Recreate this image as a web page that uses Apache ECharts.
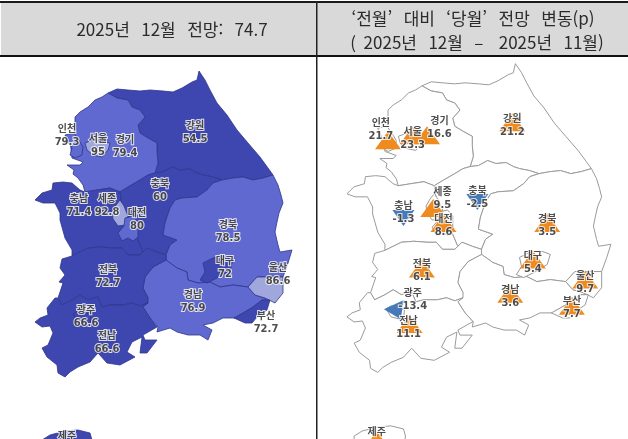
<!doctype html>
<html lang="ko">
<head>
    <meta charset="UTF-8">
    <script src="https://cdn.jsdelivr.net/npm/echarts@6/dist/echarts.min.js"></script>
    <title>2025년 12월 전망</title>
    <style>
        html, body { margin: 0; padding: 0; background: #fff; }
    </style>
</head>
<body>
<div id="main" style="width: 628px;height:439px;"></div>
<script>
    // 지역과 값 (제주 값은 그림에서 잘려 보이지 않아 추정치)
    var regions = ['인천', '서울', '경기', '강원', '충남', '세종', '대전', '충북', '경북', '대구', '울산', '전북', '경남', '부산', '광주', '전남', '제주'];
    var outlook = [79.3, 95, 79.4, 54.5, 71.4, 92.8, 80, 60, 78.5, 72, 86.6, 72.7, 76.9, 72.7, 66.6, 66.6, 70];
    var change = [21.7, 23.3, 16.6, 21.2, -1.3, 9.5, 8.6, -2.5, 3.5, 5.4, 9.7, 6.1, 3.6, 7.7, -13.4, 11.1, 5];

    // 지도 윤곽 (x, y 아래쪽 증가). 뒤에 오는 지역이 위에 그려짐
    var outlines = {
        '강원': [[108,93],[117,89],[128,90],[140,91],[150,90],[163,91],[173,92],[182,88],[192,82],[197,80],[199,71],[205,80],[210,90],[217,103],[227,115],[237,130],[248,143],[260,157],[268,168],[273,175],[263,178],[253,180],[243,177],[233,178],[222,180],[213,177],[203,175],[197,173],[190,169],[180,170],[172,167],[163,172],[155,173],[158,163],[157,152],[157,143],[148,138],[140,133],[138,125],[145,117],[140,110],[132,107],[128,100],[117,98]],
        '경기': [[108,93],[102,97],[95,100],[88,107],[80,112],[75,117],[75,125],[74,133],[70,140],[72,158],[83,162],[80,165],[70,165],[67,165],[74,170],[73,174],[78,178],[83,185],[85,192],[97,190],[110,188],[120,192],[128,187],[140,180],[148,175],[155,173],[158,163],[157,152],[157,143],[148,138],[140,133],[138,125],[145,117],[140,110],[132,107],[128,100],[117,98]],
        '충남': [[85,192],[80,190],[72,183],[63,182],[53,183],[52,190],[42,193],[35,200],[43,203],[55,203],[60,213],[60,220],[65,238],[72,250],[72,256],[88,248],[100,247],[113,248],[122,248],[128,255],[140,255],[143,252],[138,240],[132,225],[128,216],[122,205],[120,192],[110,188],[97,190]],
        '충북': [[120,192],[128,187],[140,180],[148,175],[155,173],[163,172],[172,167],[180,170],[190,169],[197,173],[203,175],[213,177],[222,180],[213,183],[207,190],[197,197],[182,198],[175,200],[170,208],[167,217],[165,223],[163,235],[177,240],[170,245],[166,255],[157,252],[147,248],[143,252],[138,240],[132,225],[128,216],[122,205]],
        '경북': [[222,180],[233,178],[243,177],[253,180],[263,178],[273,175],[278,185],[281,195],[283,203],[279,213],[277,222],[275,232],[278,245],[280,252],[292,250],[288,263],[283,277],[257,277],[248,287],[233,285],[220,287],[210,282],[198,283],[188,280],[187,272],[177,268],[166,260],[166,255],[170,245],[177,240],[163,235],[165,223],[167,217],[170,208],[175,200],[182,198],[197,197],[207,190],[213,183]],
        '경남': [[166,260],[177,268],[187,272],[188,280],[198,283],[210,282],[220,287],[233,285],[248,287],[255,295],[265,298],[270,300],[262,300],[253,307],[243,313],[235,318],[223,318],[213,323],[203,325],[212,330],[208,340],[200,335],[188,335],[177,332],[170,328],[157,332],[158,327],[150,318],[143,307],[148,298],[143,288],[145,277],[153,267]],
        '전북': [[72,256],[88,248],[100,247],[113,248],[122,248],[128,255],[140,255],[143,252],[147,248],[157,252],[166,255],[166,260],[153,267],[145,277],[143,288],[148,298],[148,303],[140,306],[132,303],[123,305],[110,305],[102,307],[98,297],[93,298],[88,300],[80,295],[72,300],[62,305],[58,298],[63,283],[59,282],[65,275],[60,268],[62,259]],
        '전남': [[58,298],[55,298],[47,308],[48,315],[40,318],[35,322],[42,327],[50,326],[53,333],[48,345],[42,348],[47,357],[57,365],[58,373],[65,377],[70,372],[78,367],[90,362],[98,353],[107,363],[120,365],[135,357],[127,352],[132,342],[142,337],[140,353],[147,353],[157,340],[145,340],[143,335],[157,327],[158,327],[150,318],[143,307],[148,303],[140,306],[132,303],[123,305],[110,305],[102,307],[98,297],[93,298],[88,300],[80,295],[72,300],[62,305]],
        '제주': [[42,440],[50,435],[65,431],[78,430],[90,433],[92,440],[90,452],[70,460],[50,458],[42,450]],
        '인천': [[65,135],[74,133],[80,142],[83,147],[82,155],[75,158],[70,155],[72,148],[68,142]],
        '서울': [[85,143],[93,140],[103,142],[110,143],[108,150],[102,157],[93,155],[87,150]],
        '세종': [[116,205],[120,200],[124,206],[128,216],[125,225],[118,226],[113,219],[112,212]],
        '대전': [[125,218],[133,216],[138,222],[138,237],[133,241],[128,238],[122,241],[118,233],[124,226]],
        '대구': [[213,258],[203,263],[205,272],[200,280],[207,283],[217,278],[230,270],[233,260],[225,257],[218,257]],
        '울산': [[248,287],[257,277],[283,277],[283,293],[275,303],[265,298],[255,295]],
        '부산': [[270,300],[267,310],[257,317],[252,323],[245,323],[234,318],[243,313],[253,307],[262,300]],
        '광주': [[73,314],[78,311],[91,315],[90,325],[78,322]]
    };

    // 왼쪽 지도의 글자 위치 (지도 좌표)
    var outlookPlaces = {
        '인천': [67,136], '서울': [98,146], '경기': [125,147], '강원': [195,133], '충남': [79,206], '세종': [107,206],
        '대전': [137,220], '충북': [160,191], '경북': [228,232], '대구': [225,268], '울산': [278,275], '전북': [108,277],
        '경남': [193,302], '부산': [266,323], '광주': [86,317], '전남': [107,343], '제주': [67,443]
    };
    // 오른쪽 지도의 글자, 삼각형 위치 (지도 좌표)
    var changePlaces = {
        '인천': [68,137], '서울': [99,146], '경기': [125,135], '강원': [196,133], '세종': [128,205], '충북': [162,204],
        '충남': [90,219], '대전': [129,232], '경북': [230,232], '대구': [216,268], '울산': [267,288], '전북': [108,276],
        '경남': [194,302], '부산': [254,313], '광주': [99,305], '전남': [95,333], '제주': [64,443]
    };
    var markerPlaces = {
        '인천': [75,147], '서울': [99,142], '경기': [113,142], '강원': [196,129], '세종': [119,214], '충북': [162,208],
        '충남': [90,224], '대전': [129,229], '경북': [230,229], '대구': [216,265], '울산': [267,285], '전북': [108,274],
        '경남': [194,299], '부산': [254,311], '광주': [84,317], '전남': [96,329], '제주': [64,444]
    };

    var headers = ['2025년   12월   전망:   74.7', '‘전월’   대비   ‘당월’   전망   변동(p)', '(  2025년   12월   –    2025년   11월)'];

    var features = Object.keys(outlines).map(function (name) {
        var ring = outlines[name].map(function (p) { return [p[0], -p[1]]; });
        ring.push(ring[0]);
        return {
            type: 'Feature',
            properties: {name: name},
            geometry: {type: 'Polygon', coordinates: [ring]}
        };
    });
    echarts.registerMap('korea', {type: 'FeatureCollection', features: features});

    function labelSeries(geoIndex, places, values) {
        return {
            type: 'scatter',
            coordinateSystem: 'geo',
            geoIndex: geoIndex,
            symbolSize: 0,
            silent: true,
            z: 5,
            data: regions.map(function (name, i) {
                return {name: name, value: [places[name][0], -places[name][1], values[i]]};
            }),
            label: {
                show: true,
                position: 'inside',
                formatter: function (p) { return p.name + '\n' + p.value[2]; },
                fontFamily: '"DejaVu Sans", "Noto Sans CJK KR", sans-serif',
                fontSize: 10,
                fontWeight: 'bold',
                lineHeight: 13,
                color: '#222',
                textBorderColor: '#fff',
                textBorderWidth: 2
            }
        };
    }

    var myChart = echarts.init(document.getElementById('main'));

    var headerFont = {fontFamily: '"Noto Sans CJK KR", sans-serif', fontSize: 17, fontWeight: 'normal', color: '#2b2b2b'};
    var option = {
        animation: false,
        title: [
            {text: headers[0], left: 172, top: 21, textAlign: 'center', padding: 0, textStyle: headerFont},
            {text: headers[1], left: 473, top: 10, textAlign: 'center', padding: 0, textStyle: headerFont},
            {text: headers[2], left: 477, top: 34, textAlign: 'center', padding: 0, textStyle: headerFont}
        ],
        graphic: [
            {type: 'rect', z: -1, shape: {x: 1, y: 3, width: 627, height: 52}, style: {fill: '#d9d9d9'}},
            {type: 'rect', z: 1, shape: {x: 0, y: 1, width: 628, height: 2}, style: {fill: '#1a1a1a'}},
            {type: 'rect', z: 1, shape: {x: 0, y: 55, width: 628, height: 2}, style: {fill: '#111'}},
            {type: 'rect', z: 1, shape: {x: 316, y: 1, width: 1.5, height: 438}, style: {fill: '#222'}}
        ],
        visualMap: {
            show: false,
            type: 'piecewise',
            seriesIndex: 0,
            pieces: [
                {lt: 75, color: '#3e46b0'},
                {gte: 75, lt: 85, color: '#5f69cf'},
                {gte: 85, color: '#a0a7dc'}
            ]
        },
        geo: [
            {
                map: 'korea',
                silent: true,
                aspectScale: 1,
                boundingCoords: [[0, 0], [628, -439]],
                left: 0, top: 0, width: 628, height: 439,
                itemStyle: {areaColor: '#3e46b0', borderColor: '#30358c', borderWidth: 0.8}
            },
            {
                map: 'korea',
                silent: true,
                aspectScale: 1,
                boundingCoords: [[0, 0], [628, -439]],
                left: 311, top: -8, width: 645, height: 443,
                itemStyle: {areaColor: '#fff', borderColor: '#9a9a9a', borderWidth: 1}
            }
        ],
        series: [
            {
                type: 'map',
                geoIndex: 0,
                data: regions.map(function (name, i) {
                    return {name: name, value: outlook[i]};
                })
            },
            labelSeries(0, outlookPlaces, outlook),
            {
                type: 'scatter',
                coordinateSystem: 'geo',
                geoIndex: 1,
                silent: true,
                z: 3,
                data: regions.map(function (name, i) {
                    var up = change[i] >= 0;
                    return {
                        name: name,
                        value: [markerPlaces[name][0], -markerPlaces[name][1], change[i]],
                        symbol: 'triangle',
                        symbolSize: up ? [26, 18] : [22, 16],
                        symbolRotate: up ? 0 : (name === '광주' ? 205 : 180),
                        itemStyle: {color: up ? '#ee8a1e' : '#4679b8', opacity: 1}
                    };
                })
            },
            labelSeries(1, changePlaces, change)
        ]
    };

    myChart.setOption(option);
</script>
</body>
</html>
